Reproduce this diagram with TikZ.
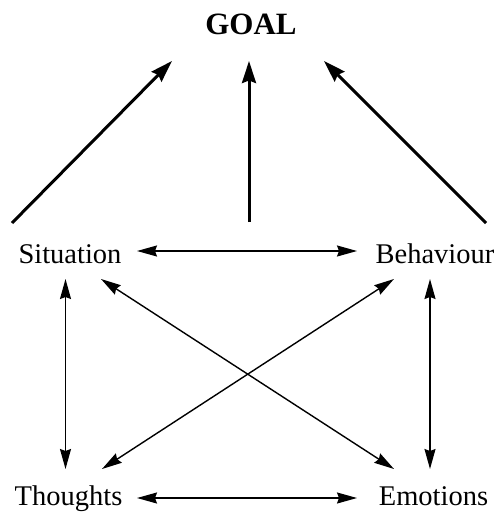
\documentclass[tikz,border=0pt]{standalone}
\usepackage{fontspec}
\setmainfont{Liberation Serif}
\usetikzlibrary{arrows.meta}
\tikzset{
  lbl/.style={inner sep=0pt, anchor=base, font=\fontsize{28.5}{34}\selectfont},
  goallbl/.style={inner sep=0pt, anchor=base, font=\fontsize{31}{37}\selectfont\bfseries},
  thinhead/.tip={Stealth[length=20pt,width=11pt,inset=2pt]},
  thickhead/.tip={Stealth[length=22pt,width=14pt,inset=2.5pt]},
  thinarr/.style={line width=1.4pt, thinhead-thinhead},
  thickarr/.style={line width=3pt, -thickhead}
}
\begin{document}
\begin{tikzpicture}[x=1pt,y=-1pt]
\useasboundingbox (0,0) rectangle (497,513);
% nodes
\node[goallbl] (G) at (251,35) {GOAL};
\node[lbl] (S) at (70,263) {Situation};
\node[lbl] (B) at (435,263) {Behaviour};
\node[lbl] (T) at (68.5,505) {Thoughts};
\node[lbl] (E) at (433.5,505) {Emotions};
% connector end points
\coordinate (G-l) at (172,61);
\coordinate (G-m) at (249,61);
\coordinate (G-r) at (324,61);
\coordinate (S-up) at (12,223);
\coordinate (M-up) at (249,222);
\coordinate (B-up) at (486,223);
\coordinate (S-e) at (137,251);
\coordinate (B-w) at (357,251);
\coordinate (S-s) at (65.5,279);
\coordinate (S-se) at (101,279);
\coordinate (B-sw) at (394,279);
\coordinate (B-s) at (430,279);
\coordinate (T-n) at (65.5,469);
\coordinate (T-ne) at (102,469);
\coordinate (E-nw) at (394,469);
\coordinate (E-n) at (430,469);
\coordinate (T-e) at (137,498);
\coordinate (E-w) at (357,498);
% thick arrows to goal
\draw[thickarr] (S-up) -- (G-l);
\draw[thickarr] (M-up) -- (G-m);
\draw[thickarr] (B-up) -- (G-r);
% thin double arrows
\draw[thinarr] (S-e) -- (B-w);
\draw[thinarr] (T-e) -- (E-w);
\draw[thinarr] (S-s) -- (T-n);
\draw[thinarr] (B-s) -- (E-n);
\draw[thinarr] (S-se) -- (E-nw);
\draw[thinarr] (T-ne) -- (B-sw);
\end{tikzpicture}
\end{document}
